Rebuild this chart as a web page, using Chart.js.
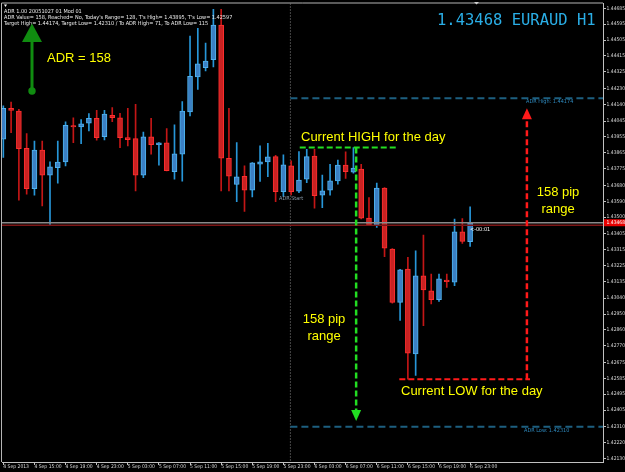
<!DOCTYPE html>
<html><head><meta charset="utf-8">
<script src="https://cdn.jsdelivr.net/npm/chart.js@4.4.1/dist/chart.umd.min.js"></script>
<style>html,body{margin:0;padding:0;background:#000;}#wrap{width:625px;height:472px;}</style>
</head><body><div id="wrap"><canvas id="c" width="625" height="472"></canvas></div>
<script>
// ---- data (EURAUD H1, bars from 4 Sep 2013 11:00) ----
const opens  = [1.43942,1.44118,1.44102,1.43891,1.43662,1.43880,1.43738,1.43781,1.43813,1.44019,1.44012,1.44033,1.44061,1.43957,1.44078,1.44063,1.43951,1.43945,1.43738,1.43955,1.43911,1.43921,1.43758,1.43857,1.44097,1.44295,1.44348,1.44393,1.44590,1.43834,1.43685,1.43732,1.43653,1.43800,1.43813,1.43843,1.43645,1.43791,1.43647,1.43715,1.43847,1.43625,1.43653,1.43706,1.43795,1.43755,1.43772,1.43494,1.43455,1.43664,1.43319,1.43016,1.43205,1.42724,1.43167,1.43082,1.43031,1.43143,1.43130,1.43417,1.43360];
const highs  = [1.44131,1.44153,1.44112,1.43974,1.43932,1.43932,1.43813,1.43932,1.44040,1.44064,1.44053,1.44087,1.44106,1.44106,1.44121,1.44089,1.44118,1.44140,1.43983,1.44061,1.43923,1.44002,1.44023,1.44155,1.44527,1.44571,1.44488,1.44679,1.44679,1.44118,1.43923,1.43791,1.43810,1.43904,1.43919,1.43851,1.43853,1.43819,1.43872,1.43885,1.43885,1.43738,1.43800,1.43823,1.43870,1.43895,1.43800,1.43611,1.43693,1.43668,1.43322,1.43203,1.43271,1.43309,1.43398,1.43177,1.43177,1.43177,1.43489,1.43492,1.43558];
const lows   = [1.43838,1.43979,1.43596,1.43630,1.43625,1.43564,1.43456,1.43693,1.43791,1.43923,1.43917,1.43989,1.43936,1.43938,1.44042,1.43894,1.43904,1.43649,1.43724,1.43857,1.43795,1.43762,1.43715,1.43704,1.44074,1.44225,1.44329,1.44353,1.43649,1.43649,1.43587,1.43532,1.43615,1.43702,1.43730,1.43588,1.43617,1.43626,1.43639,1.43696,1.43551,1.43554,1.43625,1.43687,1.43719,1.43749,1.43490,1.43451,1.43441,1.43275,1.43012,1.42913,1.42580,1.42601,1.42884,1.43007,1.43022,1.43101,1.43111,1.43351,1.43334];
const closes = [1.44118,1.44106,1.43889,1.43662,1.43881,1.43738,1.43785,1.43812,1.44021,1.44012,1.44029,1.44061,1.43951,1.44084,1.44064,1.43951,1.43940,1.43738,1.43955,1.43911,1.43921,1.43764,1.43859,1.44102,1.44299,1.44370,1.44386,1.44590,1.43834,1.43732,1.43728,1.43653,1.43808,1.43813,1.43842,1.43645,1.43796,1.43645,1.43710,1.43843,1.43621,1.43649,1.43706,1.43795,1.43758,1.43778,1.43494,1.43455,1.43664,1.43324,1.43016,1.43200,1.42727,1.43167,1.43086,1.43031,1.43149,1.43133,1.43417,1.43362,1.43468];

const yTickValues = [1.44685,1.44595,1.44505,1.44415,1.44325,1.44230,1.44140,1.44045,1.43955,1.43865,1.43775,1.43680,1.43590,1.43500,1.43405,1.43315,1.43225,1.43135,1.43040,1.42950,1.42860,1.42770,1.42675,1.42585,1.42495,1.42405,1.42310,1.42220,1.42130];
const xTickBars   = [0,4,8,12,16,20,24,28,32,36,40,44,48,52,56,60];
const xTickLabels = ["4 Sep 2013","4 Sep 15:00","4 Sep 19:00","4 Sep 23:00","5 Sep 03:00","5 Sep 07:00","5 Sep 11:00","5 Sep 15:00","5 Sep 19:00","5 Sep 23:00","6 Sep 03:00","6 Sep 07:00","6 Sep 11:00","6 Sep 15:00","6 Sep 19:00","6 Sep 23:00"];

const adrHigh = 1.44174, adrLow = 1.42310;
const dayHigh = 1.43895, dayLow = 1.42580;
const currentPrice = 1.43468, lowerRefLine = 1.43454;
const dayStartBar = 36.9;
const highSeg = [38.1, 50.5], lowSeg = [50.9, 67.7];
const greenArrowBar = 45.35, greenArrowEnd = 1.42404, greenArrowTip = 1.42342;
const redArrowBar = 67.3, redArrowEnd = 1.44056, redArrowTip = 1.44118;

const yMin = 1.42110, yMax = 1.447123;
const xMin = -0.17, xMax = 77.08;

// ---- styles ----
const bullFill = '#3b80c4', bullBorder = '#4fb2ee', bullWick = '#2796d8';
const bearFill = '#c92222', bearBorder = '#ff2e2e', bearWick = '#c41616';
const TINY = '"Liberation Sans Narrow","DejaVu Sans Condensed","Liberation Sans",sans-serif';

const isBull = opens.map((o,i)=>closes[i]>=o);
const wickData = opens.map((o,i)=>({x:i, y:[lows[i], highs[i]]}));
const bodyData = opens.map((o,i)=>({x:i, y:[o, closes[i]]}));

function seg(x1,y1,x2,y2){return [{x:x1,y:y1},{x:x2,y:y2}];}
function lineDs(data,color,width,dash,order){
  return {type:'line', data, borderColor:color, borderWidth:width, borderDash:dash||[], pointRadius:0, fill:false, order:order, tension:0};
}

const overlay = {
  id:'overlay',
  beforeDraw(chart){
    const c=chart.ctx; c.save(); c.fillStyle='#000'; c.fillRect(0,0,chart.width,chart.height); c.restore();
  },
  afterDraw(chart){
    const c=chart.ctx, xs=chart.scales.x, ys=chart.scales.y, a=chart.chartArea;
    const px=v=>xs.getPixelForValue(v), py=v=>ys.getPixelForValue(v);
    c.save();
    // frame left/top
    c.strokeStyle='#b4b4b4'; c.lineWidth=1;
    c.beginPath(); c.moveTo(a.left-0.5,a.top-0.5); c.lineTo(a.left-0.5,a.bottom); c.moveTo(a.left-0.5,a.top-0.5); c.lineTo(a.right,a.top-0.5); c.stroke();
    // small markers
    c.fillStyle='#ffffff';
    c.beginPath(); c.moveTo(4,4.5); c.lineTo(7,4.5); c.lineTo(5.5,7); c.closePath(); c.fill();
    c.fillStyle='#d0d0d0';
    c.beginPath(); c.moveTo(474,2); c.lineTo(479,2); c.lineTo(476.5,4.5); c.closePath(); c.fill();
    // info text
    c.fillStyle='#ececec'; c.font='5.5px '+TINY; c.textBaseline='middle'; c.textAlign='left';
    c.fillText('ADR 1.00 20051027 01 Mod 01',4,12);
    c.fillText("ADR Value= 158, Reached= No, Today's Range= 128, T's High= 1.43895, T's Low= 1.42597",4,18);
    c.fillText('Target High= 1.44174, Target Low= 1.42310 / To ADR High= 71, To ADR Low= 115',4,24);
    // title
    c.fillStyle='#2aaee6'; c.font='15.5px "DejaVu Sans Mono","Liberation Mono",monospace'; c.textBaseline='alphabetic';
    c.fillText('1.43468 EURAUD H1',437,25);
    // green arrow top-left
    c.fillStyle='#108c10'; c.strokeStyle='#108c10'; c.lineWidth=3;
    c.beginPath(); c.moveTo(32,40); c.lineTo(32,91); c.stroke();
    c.beginPath(); c.moveTo(32,23.5); c.lineTo(42,42); c.lineTo(22,42); c.closePath(); c.fill();
    c.beginPath(); c.arc(32,91,3.7,0,Math.PI*2); c.fill();
    // arrow heads
    c.fillStyle='#22dd22';
    const gx=px(greenArrowBar), gy=py(greenArrowTip);
    c.beginPath(); c.moveTo(gx,gy); c.lineTo(gx-5,gy-11); c.lineTo(gx+5,gy-11); c.closePath(); c.fill();
    c.fillStyle='#ff1a1a';
    const rx=px(redArrowBar), ry=py(redArrowTip);
    c.beginPath(); c.moveTo(rx,ry); c.lineTo(rx-5,ry+11); c.lineTo(rx+5,ry+11); c.closePath(); c.fill();
    // yellow labels
    c.fillStyle='#ffff00'; c.font='13px "Liberation Sans",Arial,sans-serif'; c.textBaseline='middle';
    c.textAlign='left';
    c.fillText('ADR = 158',47,58);
    c.fillText('Current HIGH for the day',301,137);
    c.fillText('Current LOW for the day',401,391);
    c.textAlign='center';
    c.fillText('158 pip',324,319); c.fillText('range',324,336);
    c.fillText('158 pip',558,192); c.fillText('range',558,209);
    // small labels
    c.textAlign='left'; c.font='5.5px '+TINY;
    c.fillStyle='#8797a6'; c.fillText('ADR Start',279,199);
    c.fillStyle='#2e88bc'; c.fillText('ADR High: 1.44174',526,py(adrHigh)+3.5); c.fillText('ADR Low: 1.42310',524,py(adrLow)+3.5);
    c.fillStyle='#ffffff'; c.fillText('<-00:01',470,229.5);
    // current price box
    const cy=py(currentPrice);
    c.fillStyle='#e80000'; c.fillRect(a.right+1,cy-3.5,625-a.right,7);
    c.fillStyle='#ffffff'; c.font='5px '+TINY; c.fillText(currentPrice.toFixed(5),a.right+3.5,cy);
    c.restore();
  }
};

new Chart(document.getElementById('c'), {
  type:'bar',
  data:{datasets:[
    lineDs(seg(dayStartBar,yMax,dayStartBar,yMin),'#8c8c8c',1,[1,2],5),
    {label:'wicks', data:wickData, order:2, grouped:false, barThickness:1, borderWidth:0,
     backgroundColor:isBull.map(b=>b?bullWick:bearWick)},
    {label:'bodies', data:bodyData, order:1, grouped:false, barThickness:5, borderWidth:1, borderSkipped:false, minBarLength:1,
     backgroundColor:isBull.map(b=>b?bullFill:bearFill), borderColor:isBull.map(b=>b?bullBorder:bearBorder)},
    lineDs(seg(dayStartBar,adrHigh,xMax,adrHigh),'#1d5f80',2,[7,4],-1),
    lineDs(seg(dayStartBar,adrLow,xMax,adrLow),'#1d5f80',2,[7,4],-1),
    lineDs(seg(xMin,currentPrice,xMax,currentPrice),'#8a8a8a',1.5,[],-1),
    lineDs(seg(xMin,lowerRefLine,xMax,lowerRefLine),'#7c1616',1.5,[],-1),
    lineDs(seg(highSeg[0],dayHigh,highSeg[1],dayHigh),'#22dd22',2,[6,3],-2),
    lineDs(seg(greenArrowBar,dayHigh,greenArrowBar,greenArrowEnd),'#22dd22',2.5,[6,3],-2),
    lineDs(seg(lowSeg[0],dayLow,lowSeg[1],dayLow),'#ff1a1a',2,[6,3],-2),
    lineDs(seg(redArrowBar,dayLow,redArrowBar,redArrowEnd),'#ff1a1a',2.5,[6,3],-2)
  ]},
  options:{
    responsive:false, animation:false, devicePixelRatio:1,
    layout:{padding:{left:2,top:2,right:0,bottom:0}},
    plugins:{legend:{display:false}, tooltip:{enabled:false}},
    scales:{
      x:{type:'linear', min:xMin, max:xMax, offset:false,
         afterFit(s){s.height=10;},
         afterBuildTicks(s){s.ticks=xTickBars.map(v=>({value:v}));},
         grid:{display:true, drawOnChartArea:false, drawTicks:true, tickLength:3, color:'#c0c0c0', offset:false},
         border:{display:true, color:'#c0c0c0', width:1},
         ticks:{autoSkip:false, maxRotation:0, minRotation:0, align:'start', padding:-1, color:'#d8d8d8',
                font:{family:TINY, size:5},
                callback:(v)=>{const k=xTickBars.indexOf(v); return k>=0?xTickLabels[k]:'';}}},
      y:{type:'linear', position:'right', min:yMin, max:yMax, beginAtZero:false,
         afterFit(s){s.width=22;},
         afterBuildTicks(s){s.ticks=yTickValues.map(v=>({value:v}));},
         grid:{display:true, drawOnChartArea:false, drawTicks:true, tickLength:3, color:'#c0c0c0'},
         border:{display:true, color:'#c0c0c0', width:1},
         ticks:{autoSkip:false, padding:0.5, color:'#d8d8d8', font:{family:TINY, size:5},
                callback:(v)=>Number(v).toFixed(5)}}
    }
  },
  plugins:[overlay]
});
</script></body></html>
